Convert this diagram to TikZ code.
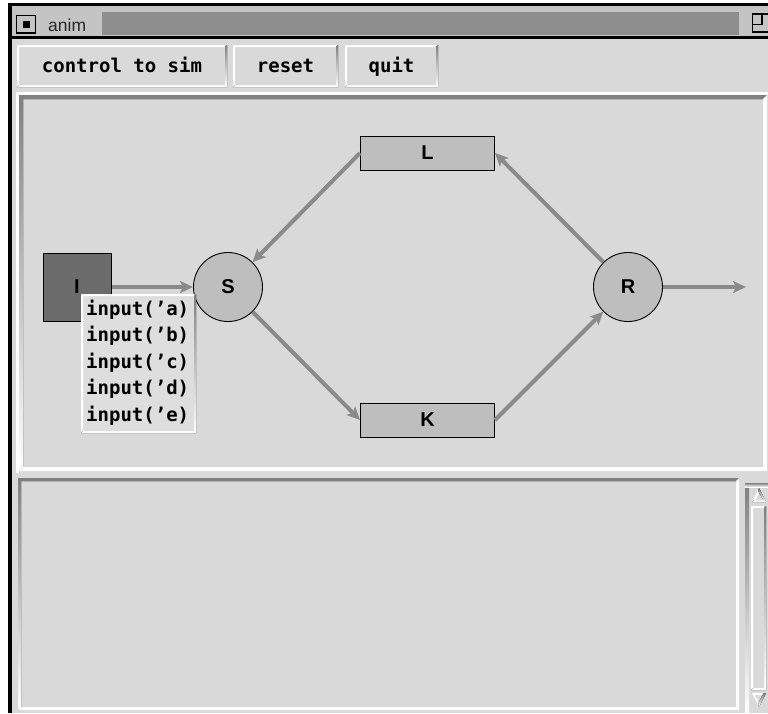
\documentclass[tikz,border=0pt]{standalone}
\usepackage{fontspec}
\usetikzlibrary{arrows.meta}
\newfontfamily\uimono{DejaVu Sans Mono Bold}
\newfontfamily\lblfont{Liberation Sans Bold}
\newfontfamily\titlefont{Liberation Sans}
\definecolor{winbg}{HTML}{D9D9D9}
\definecolor{shade}{HTML}{8A8A8A}
\definecolor{titlegray}{HTML}{C4C4C4}
\definecolor{stipple}{HTML}{8E8E8E}
\definecolor{nodegray}{HTML}{BEBEBE}
\definecolor{idark}{HTML}{6C6C6C}
\definecolor{flowgray}{HTML}{8A8A8A}
\definecolor{menubg}{HTML}{DEDEDE}
% bevelled rectangle: x1 y1 x2 y2 width top-left-colour bottom-right-colour
\newcommand\bevel[7]{%
  \fill[#6] (#1,#4) -- (#1,#2) -- (#3,#2) -- (#3-#5,#2+#5) -- (#1+#5,#2+#5) -- (#1+#5,#4-#5) -- cycle;
  \fill[#7] (#1,#4) -- (#3,#4) -- (#3,#2) -- (#3-#5,#2+#5) -- (#3-#5,#4-#5) -- (#1+#5,#4-#5) -- cycle;}
% bevel round a named node: node, width, top-left-colour, bottom-right-colour
\newcommand\bevelnode[4]{%
  \fill[#3] (#1.south west) -- (#1.north west) -- (#1.north east) -- ([shift={(-#2,#2)}]#1.north east) -- ([shift={(#2,#2)}]#1.north west) -- ([shift={(#2,-#2)}]#1.south west) -- cycle;
  \fill[#4] (#1.south west) -- (#1.south east) -- (#1.north east) -- ([shift={(-#2,#2)}]#1.north east) -- ([shift={(-#2,-#2)}]#1.south east) -- ([shift={(#2,-#2)}]#1.south west) -- cycle;}
\begin{document}
\begin{tikzpicture}[x=1pt,y=-1pt,
  btn/.style={fill=winbg, outer sep=0pt, inner sep=0pt, minimum height=42pt},
  btntext/.style={anchor=base, inner sep=0pt, font=\uimono\fontsize{19}{20}\selectfont},
  box/.style={draw=black, line width=1pt, fill=nodegray, minimum width=134pt,
    minimum height=34pt, inner sep=0pt, font=\lblfont\fontsize{20}{20}\selectfont},
  ring/.style={circle, draw=black, line width=0.9pt, fill=nodegray, minimum size=69pt,
    inner sep=0pt, font=\lblfont\fontsize{20}{20}\selectfont},
  sq/.style={draw=black, line width=1pt, fill=idark, minimum size=68pt, inner sep=0pt,
    font=\lblfont\fontsize{20}{20}\selectfont},
  flow/.style={draw=flowgray, line width=4pt, -{Stealth[length=13pt, width=12pt, inset=3pt]}},
  menuline/.style={anchor=base west, inner sep=0pt, font=\uimono\fontsize{19}{20}\selectfont},
]
\useasboundingbox (0,0) rectangle (768,713);
\fill[white] (0,0) rectangle (768,713);

% window frame and title bar
\fill[titlegray] (9,4) rectangle (768,39);
\fill[black] (9,3) rectangle (768,6);
\fill[black] (9,36) rectangle (768,39);
\fill[black] (8,3) rectangle (12,713);
\fill[winbg] (12,39) rectangle (768,713);
\draw[line width=1.6pt] (16.5,15.5) rectangle (35.5,33);
\fill[black] (22.5,20.5) rectangle (29.5,27.5);
\node[anchor=base west, inner sep=0pt, text=black!85, font=\titlefont\fontsize{17.5}{18}\selectfont] (title) at (48,31) {anim};
\fill[stipple] (102,12) rectangle (739,35);
\draw[line width=1.3pt] (752.5,14) rectangle (770,32);
\draw[line width=1.3pt] (752.5,24.5) -- (762,24.5) -- (762,14);

% button row
\node[btn, minimum width=210pt] (bctl) at (122,66) {};
\node[btn, minimum width=105pt] (breset) at (285.5,66) {};
\node[btn, minimum width=93pt] (bquit) at (391.5,66) {};
\bevelnode{bctl}{2}{white}{shade}
\bevelnode{breset}{2}{white}{shade}
\bevelnode{bquit}{2}{white}{shade}
\node[btntext] (tctl) at (bctl.center |- 0,72) {control to sim};
\node[btntext] (treset) at (breset.center |- 0,72) {reset};
\node[btntext] (tquit) at (bquit.center |- 0,72) {quit};

% canvas frame, text frame and scrollbar
\fill[white] (17,92) rectangle (768,94.5);
\fill[white] (16,92) rectangle (18.5,473);
\bevel{19}{95}{767}{471}{4}{shade}{white}
\bevel{18}{478}{739}{710}{3}{shade}{white}
\fill[shade] (745,483) rectangle (749,713);
\fill[shade] (745,483) rectangle (768,487);
\bevel{751}{506}{766}{690}{2}{white}{shade}
\fill[white] (752,502) -- (759,488) -- (760,491) -- (754.5,502) -- cycle;
\fill[shade] (766,502) -- (759,488) -- (758,491) -- (763.5,500) -- (754,500) -- (752,502) -- cycle;
\fill[white] (752,693) -- (759,707) -- (760,704) -- (754.5,695) -- (763.5,695) -- (766,693) -- cycle;
\fill[shade] (766,693) -- (759,707) -- (758,704) -- (763.5,693) -- cycle;

% the net
\node[sq] (I) at (77,287) {I};
\node[ring] (S) at (228,287) {S};
\node[ring] (R) at (628,287) {R};
\node[box] (L) at (427.5,153) {L};
\node[box] (K) at (427.5,420) {K};
\coordinate (out) at (746,287);

\draw[flow] (I.east |- S) -- (S);
\draw[flow] (L.west) -- (S);
\draw[flow] (S) -- (K.west);
\draw[flow] (K.east) -- (R);
\draw[flow] (R) -- (L.east);
\draw[flow] (R) -- (out);

% input menu
\node[anchor=north west, fill=menubg, minimum width=115pt, minimum height=139pt,
  inner sep=0pt, outer sep=0pt] (menu) at (81,294) {};
\bevelnode{menu}{2}{white}{shade}
\node[menuline] (m1) at (86,315) {input(’a)};
\node[menuline] (m2) at (86,341.5) {input(’b)};
\node[menuline] (m3) at (86,368) {input(’c)};
\node[menuline] (m4) at (86,394.5) {input(’d)};
\node[menuline] (m5) at (86,421) {input(’e)};
\end{tikzpicture}
\end{document}
